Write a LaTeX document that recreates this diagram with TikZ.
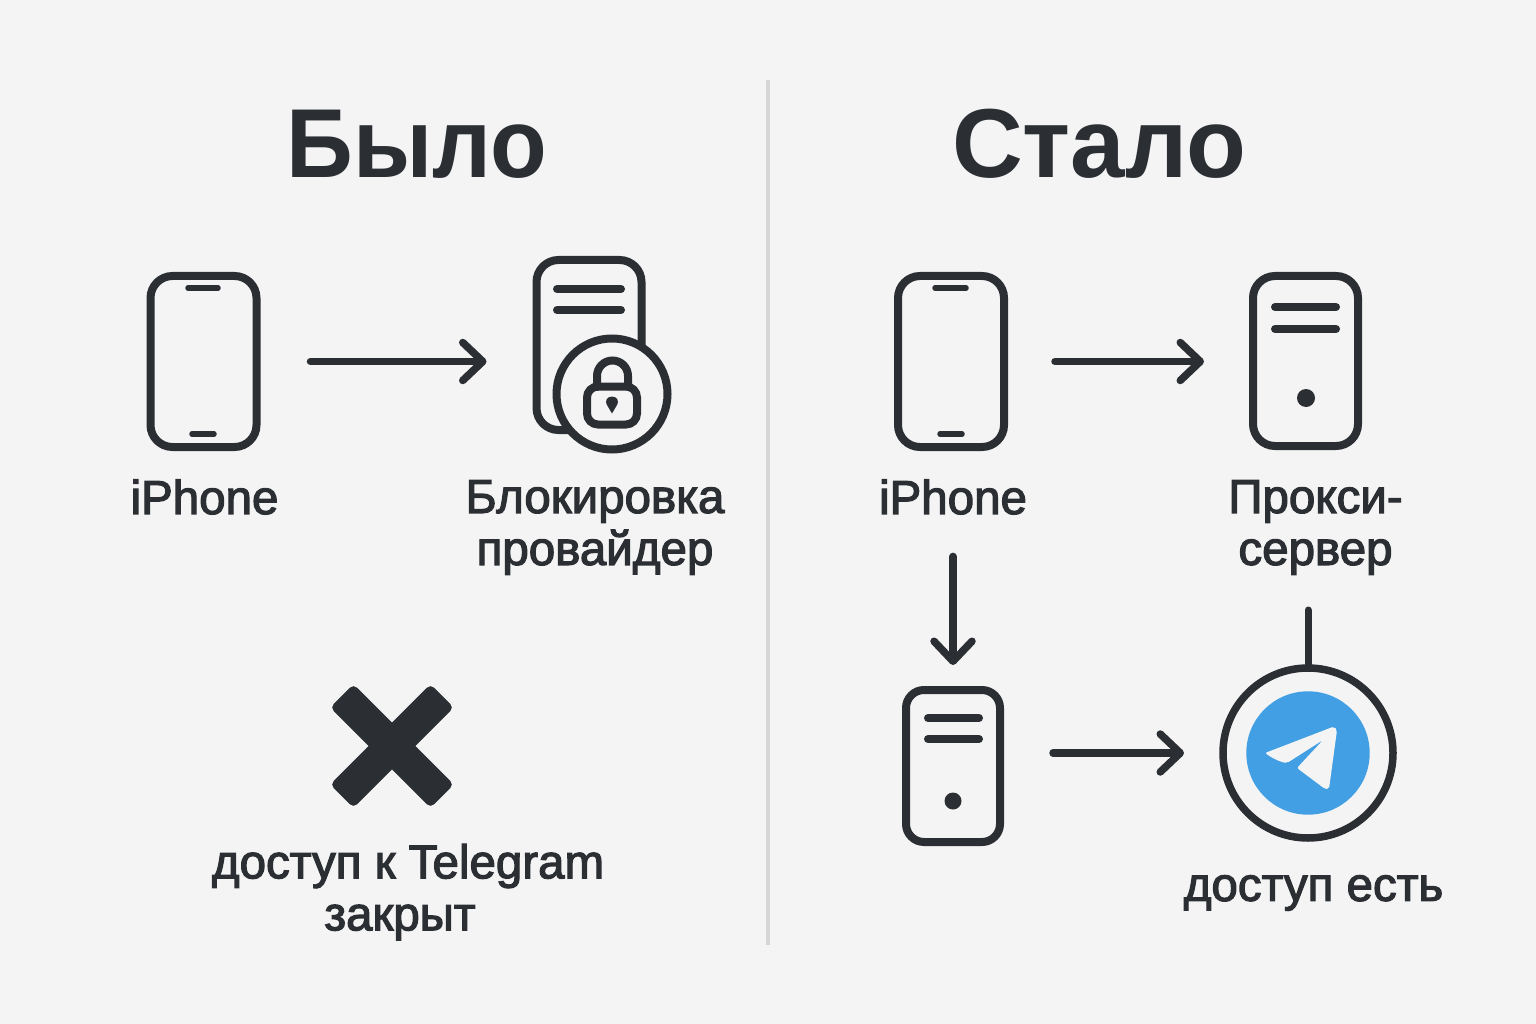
\documentclass[tikz,border=0pt]{standalone}
\usepackage{fontspec}
\setmainfont{Liberation Sans}[FakeBold=2.5]
\newfontfamily\titlefont{Liberation Sans Bold}[FakeStretch=0.98]
\usetikzlibrary{arrows.meta,calc}
\definecolor{ink}{HTML}{2B2E33}
\definecolor{paper}{HTML}{F4F4F4}
\definecolor{rule}{HTML}{D6D6D6}
\definecolor{tg}{HTML}{429FE3}
\tikzset{
  x=1pt,y=-1pt,
  every node/.style={inner sep=0pt,outer sep=0pt},
  device/.style={draw=ink,line width=8pt,rounded corners=22pt,fill=paper},
  conn/.style={draw=ink,line width=7.5pt,line cap=round,
    -{Straight Barb[length=20pt,width=38pt,line width=7.5pt,round]}},
  bar/.style={draw=ink,line width=8pt,line cap=round},
  slit/.style={draw=ink,line width=5.5pt,line cap=round},
  title/.style={font=\fontsize{98}{98}\titlefont,text=ink,anchor=base},
  label/.style={font=\fontsize{47.5}{52}\selectfont,text=ink,align=center},
}
\begin{document}
\begin{tikzpicture}
\useasboundingbox (0,0) rectangle (1536,1024);
\fill[paper] (0,0) rectangle (1536,1024);
\draw[rule,line width=3.5pt] (768,80) -- (768,945);
\node[title,xscale=0.966] (tA) at (417,178) {Было};
\node[title,xscale=1.02] (tB) at (1099,178) {Стало};
% left
\node[device,minimum width=106pt,minimum height=171pt] (phoneA) at (203.5,361.5) {};
\draw[slit] (188,288) -- (218,288);
\draw[slit] (192,434) -- (214,434);
\node[device,minimum width=105pt,minimum height=170pt] (serverA) at (589,345) {};
\draw[bar] (557,289) -- (621,289);
\draw[bar] (557,310) -- (621,310);
\node[draw=ink,line width=8pt,fill=paper,circle,minimum size=111pt] (lockA) at (612,394) {};
\draw[bar] (597,387) -- (597,376) arc[start angle=180,end angle=360,radius=15.5] -- (628,387);
\node[draw=ink,line width=8pt,rounded corners=11pt,minimum width=50pt,minimum height=38pt] (lockbody) at (612,405.5) {};
\fill[ink] (612,396.5) .. controls (606,396.5) and (605,402) .. (607,405) -- (612,413.5) -- (617,405) .. controls (619,402) and (618,396.5) .. (612,396.5) -- cycle;
\draw[conn,shorten <=54pt,shorten >=50pt] (phoneA.east) -- (phoneA.east -| serverA.west);
\node[label] (ipA) at (204.5,497) {iPhone};
\node[label] (blA) at (595,527.5) {Блокировка\\провайдер};
\node (crossA) at (392,746) {};
\foreach \r in {45,-45}
  \node[fill=ink,rotate=\r,rounded corners=5pt,minimum width=142pt,minimum height=33pt] at (crossA) {};
\node[label] (txA) at (408,892) {доступ к Telegram\\закрыт\hspace*{16pt}};
% right
\node[device,minimum width=106pt,minimum height=171pt] (phoneB) at (951,361.5) {};
\draw[slit] (935,288) -- (966,288);
\draw[slit] (940,434) -- (962,434);
\node[device,minimum width=105pt,minimum height=170pt] (serverB) at (1305.5,361) {};
\draw[bar] (1275,307) -- (1336,307);
\draw[bar] (1275,329) -- (1336,329);
\fill[ink] (1306,398) circle[radius=9];
\draw[conn,shorten <=51pt,shorten >=49pt] (phoneB.east) -- (phoneB.east -| serverB.west);
\node[label] (ipB) at (953,497) {iPhone};
\node[label] (prB) at (1315.5,527.5) {Прокси-\\сервер};
\node[device,minimum width=94pt,minimum height=152pt,rounded corners=18pt] (serverC) at (953,766) {};
\draw[bar] (928,718) -- (979,718);
\draw[bar] (928,739) -- (979,739);
\fill[ink] (953,801) circle[radius=8.5];
\node[circle,draw=ink,line width=7.5pt,minimum size=170pt] (ring) at (1308,753) {};
\fill[tg] (ring.center) circle[radius=61.7];
\fill[paper,rounded corners=2pt] (1334,726.5) -- (1265,753) .. controls (1272,758) and (1280,762) .. (1287,763) -- (1323,740) -- (1297,768) -- (1325,789) -- (1329,789) -- (1337,730) -- cycle;
\coordinate (stub) at (1308,610);
\draw[draw=ink,line width=7pt,line cap=round] (stub) -- (ring.north);
\draw[conn,shorten <=53pt] (ring.west -| serverC.east) -- ([xshift=-39pt]ring.west);
\draw[conn,shorten <=42pt,shorten >=25pt] (ipB.south) -- (serverC.north);
\node[label] (txB) at (1313.5,893) {доступ есть};
\end{tikzpicture}
\end{document}
